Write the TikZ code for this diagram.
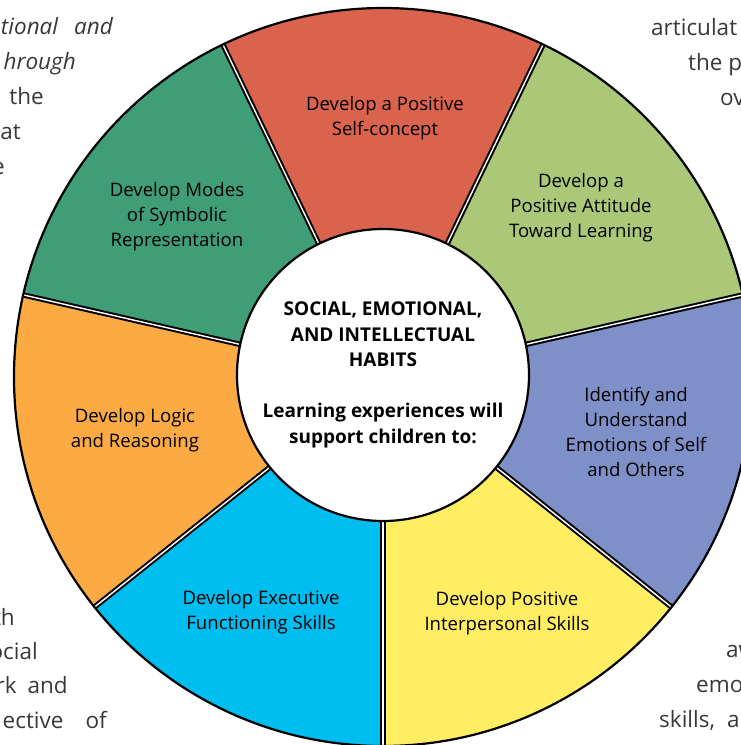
\documentclass[tikz,border=0pt]{standalone}
\usepackage{fontspec}
\setmainfont{Open Sans}
\newfontfamily\bodyfont{Open Sans}
\newlength{\du}
\setlength{\du}{1pt}
\definecolor{segred}{rgb}{0.855, 0.388, 0.306}
\definecolor{seggreen}{rgb}{0.247, 0.620, 0.471}
\definecolor{seglime}{rgb}{0.671, 0.784, 0.471}
\definecolor{segblue}{rgb}{0.498, 0.561, 0.784}
\definecolor{segyellow}{rgb}{1.000, 0.929, 0.384}
\definecolor{segcyan}{rgb}{0.000, 0.741, 0.937}
\definecolor{segorange}{rgb}{0.984, 0.667, 0.267}
\definecolor{bodygray}{rgb}{0.220, 0.220, 0.220}
\tikzset{
  seglabel/.style={align=center, inner sep=0pt, font=\fontsize{18.6}{25}\selectfont},
  bodyline/.style={inner sep=0pt, text=bodygray, font=\bodyfont\fontsize{22.5}{35}\selectfont},
  divider/.style={line width=2\du, double=white, double distance=1.4\du},
  rim/.style={line width=2.2\du},
  hub/.style={circle, draw, line width=2.2\du, fill=white, minimum size=292\du, inner sep=0pt,
    align=center, font=\bfseries\fontsize{19}{25.5}\selectfont},
}

\begin{document}
\begin{tikzpicture}
\pgftransformxscale{1.000000}
\pgftransformyscale{-1.000000}
\useasboundingbox (0\du,0\du) rectangle (741\du,745\du);
\clip (0\du,0\du) rectangle (741\du,745\du);
% text running round the wheel
\node[bodyline, anchor=base east] (tl1) at (113\du,34\du) {\itshape tional\hspace{16\du}and};
\node[bodyline, anchor=base east] (tl2) at (76\du,69\du) {\itshape hrough};
\node[bodyline, anchor=base east] (tl3) at (44\du,104\du) {the};
\node[bodyline, anchor=base east] (tl4) at (21\du,139\du) {at};
\node[bodyline, anchor=base east] (tl5) at (5\du,174\du) {e};
\node[bodyline, anchor=base west] (tr1) at (651\du,35\du) {articulat};
\node[bodyline, anchor=base west] (tr2) at (688\du,70\du) {the p};
\node[bodyline, anchor=base west] (tr3) at (720\du,105\du) {ov};
\node[bodyline, anchor=base east] (bl1) at (15\du,625\du) {th};
\node[bodyline, anchor=base east] (bl2) at (38\du,659\du) {ocial};
\node[bodyline, anchor=base east] (bl3) at (68\du,693\du) {rk\hspace{11\du}and};
\node[bodyline, anchor=base east] (bl4) at (107\du,728\du) {ective\hspace{22\du}of};
\node[bodyline, anchor=base west] (br1) at (726\du,657\du) {aw};
\node[bodyline, anchor=base west] (br2) at (696\du,692\du) {emo};
\node[bodyline, anchor=base west] (br3) at (659\du,727\du) {skills,\hspace{12\du}a};
% wheel
\begin{scope}[shift={(383\du,377\du)}]
\foreach \col [count=\k from 0] in {segyellow,segblue,seglime,segred,seggreen,segorange,segcyan}
  \fill[\col] (0,0) -- ({90-\k*360/7}:369\du)
    arc[start angle={90-\k*360/7}, end angle={90-(\k+1)*360/7}, radius=369\du] -- cycle;
\foreach \k in {0,...,6}
  \draw[divider] ({90-\k*360/7}:140\du) -- ({90-\k*360/7}:369\du);
\draw[rim] (0,0) circle[radius=369\du];
\node[hub] (hub) at (0,-2\du) {SOCIAL, EMOTIONAL,\\AND INTELLECTUAL\\HABITS\\[25.5pt]Learning experiences will\\support children to:};
\end{scope}
% segment labels
\node[seglabel] (concept) at (385\du,118\du) {Develop a Positive\\Self-concept};
\node[seglabel] (attitude) at (581\du,208\du) {Develop a\\Positive Attitude\\Toward Learning};
\node[seglabel] (emotions) at (636\du,432\du) {Identify and\\Understand\\Emotions of Self\\and Others};
\node[seglabel] (interpersonal) at (507\du,613\du) {Develop Positive\\Interpersonal Skills};
\node[seglabel] (executive) at (261\du,612\du) {Develop Executive\\Functioning Skills};
\node[seglabel] (logic) at (135\du,430\du) {Develop Logic\\and Reasoning};
\node[seglabel] (symbolic) at (177\du,217\du) {Develop Modes\\of Symbolic\\Representation};
\end{tikzpicture}
\end{document}
